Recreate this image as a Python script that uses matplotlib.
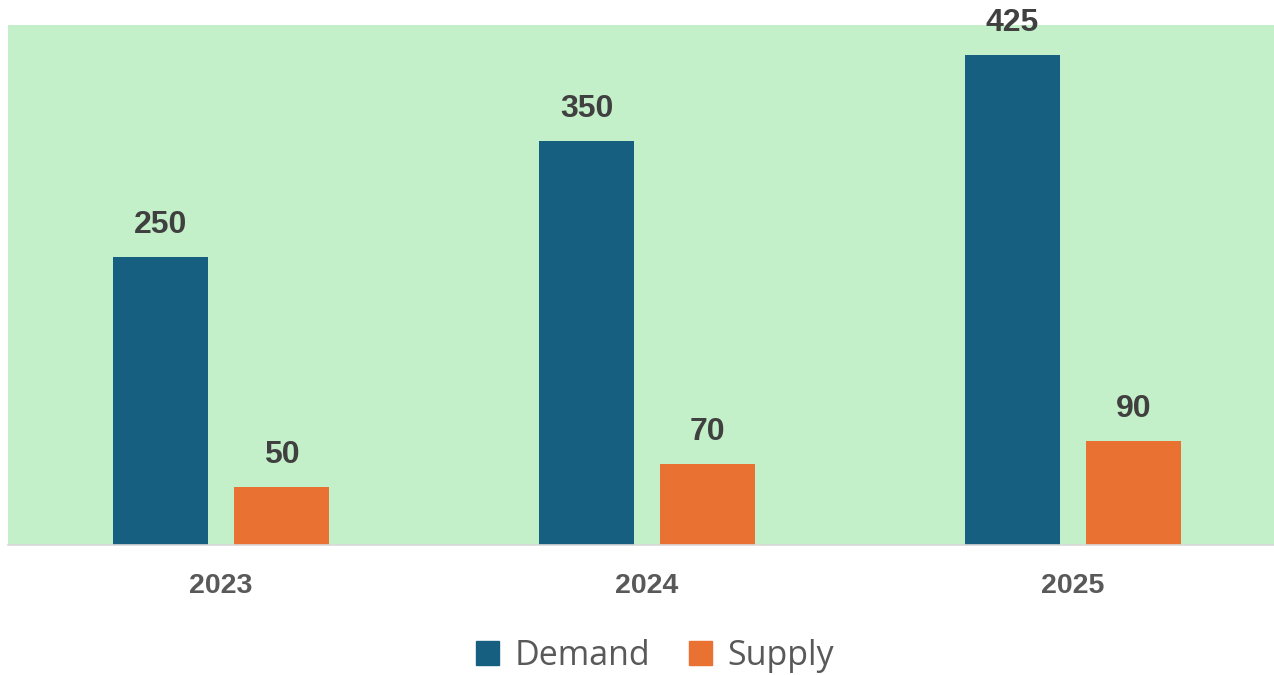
import numpy as np
import matplotlib
matplotlib.use('Agg')
import matplotlib.pyplot as plt
from matplotlib.patches import Patch

years = ["2023", "2024", "2025"]
demand = [250, 350, 425]
supply = [50, 70, 90]

DEMAND_COL = '#175f80'
SUPPLY_COL = '#e97132'
BG_GREEN = '#c3f0c8'

fig = plt.figure(figsize=(12.74, 6.75), dpi=100)
ax = fig.add_axes([8 / 1274, 130 / 675, 1266 / 1274, 520 / 675])
ax.set_facecolor(BG_GREEN)

x = np.arange(len(years))
w = 0.223
off = 0.142
b1 = ax.bar(x - off, demand, w, color=DEMAND_COL, label='Demand')
b2 = ax.bar(x + off, supply, w, color=SUPPLY_COL, label='Supply')

# value labels above each bar
for bars, vals in [(b1, demand), (b2, supply)]:
    for rect, v in zip(bars, vals):
        ax.annotate(str(v), (rect.get_x() + rect.get_width() / 2, v),
                    xytext=(0, 17), textcoords='offset pixels',
                    ha='center', va='bottom', fontsize=23, fontweight='bold',
                    color='#404040', family='Liberation Sans',
                    annotation_clip=False)

ax.set_xlim(-0.5, -0.5 + 1266 / 426)
ax.set_ylim(0, 451)
ax.set_yticks([])
ax.set_xticks(x)
ax.set_xticklabels(years, fontsize=20.5, fontweight='bold', color='#595959',
                   family='Liberation Sans')
ax.tick_params(axis='x', length=0, pad=20)
for s in ['top', 'left', 'right']:
    ax.spines[s].set_visible(False)
ax.spines['bottom'].set_color('#d9d9d9')
ax.spines['bottom'].set_linewidth(1.2)

handles = [Patch(color=DEMAND_COL, label='Demand'),
           Patch(color=SUPPLY_COL, label='Supply')]
leg = fig.legend(handles=handles, loc='center', bbox_to_anchor=(655 / 1274, 1 - 656 / 675),
                 ncol=2, frameon=False, handlelength=0.68, handleheight=0.68,
                 handletextpad=0.44, columnspacing=1.15,
                 prop={'family': 'Open Sans', 'size': 24.5})
for t in leg.get_texts():
    t.set_color('#595959')

plt.savefig('out.png', dpi=100)
